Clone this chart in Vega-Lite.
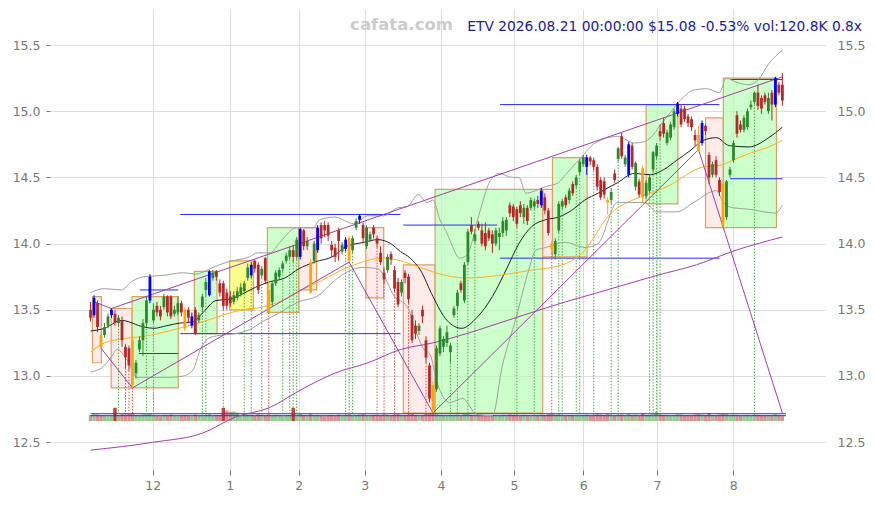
{
"$schema":"https://vega.github.io/schema/vega-lite/v6.json",
"width":775,"height":461,
"autosize":{"type":"none"},
"padding":{"left":50,"top":9,"right":50,"bottom":35},
"background":"white",
"config":{"view":{"stroke":null},"font":"DejaVu Sans","axis":{"labelFont":"DejaVu Sans","labelFontSize":12.5,"labelColor":"#777777","tickColor":"#777777","domain":false,"gridColor":"#dddddd","gridWidth":1}},
"title":{"text":"ETV 2026.08.21 00:00:00 $15.08 -0.53% vol:120.8K 0.8x","anchor":"end","frame":"group","offset":-36,"dx":37,"fontSize":13.8,"font":"DejaVu Sans","fontWeight":"normal","color":"#1c1c99","baseline":"alphabetic"},
"datasets":{
"candles":[
{"i":0,"t":"d","o":13.50,"h":13.56,"l":13.41,"c":13.44,"v":150},
{"i":1,"t":"b","o":13.46,"h":13.61,"l":13.44,"c":13.59,"v":170},
{"i":2,"t":"d","o":13.55,"h":13.57,"l":13.33,"c":13.37,"v":160},
{"i":3,"t":"o","o":13.31,"h":13.33,"l":13.21,"c":13.22,"v":140},
{"i":4,"t":"u","o":13.31,"h":13.40,"l":13.29,"c":13.37,"v":130},
{"i":5,"t":"u","o":13.38,"h":13.47,"l":13.36,"c":13.45,"v":120},
{"i":6,"t":"b","o":13.46,"h":13.51,"l":13.44,"c":13.50,"v":140},
{"i":7,"t":"d","o":13.47,"h":13.50,"l":13.38,"c":13.40,"v":330},
{"i":8,"t":"u","o":13.40,"h":13.46,"l":13.38,"c":13.44,"v":150,"m":"g"},
{"i":9,"t":"d","o":13.42,"h":13.45,"l":13.22,"c":13.27,"v":170},
{"i":10,"t":"d","o":13.22,"h":13.24,"l":13.06,"c":13.14,"v":160,"m":"r"},
{"i":11,"t":"d","o":13.21,"h":13.23,"l":13.04,"c":13.08,"v":180,"m":"r"},
{"i":12,"t":"o","o":13.27,"h":13.31,"l":12.91,"c":12.93,"v":200,"m":"r"},
{"i":13,"t":"u","o":13.02,"h":13.12,"l":12.98,"c":13.10,"v":150},
{"i":14,"t":"u","o":13.20,"h":13.30,"l":13.18,"c":13.27,"v":140},
{"i":15,"t":"u","o":13.27,"h":13.43,"l":13.15,"c":13.40,"v":160},
{"i":16,"t":"u","o":13.40,"h":13.60,"l":13.38,"c":13.57,"v":170,"m":"g"},
{"i":17,"t":"b","o":13.57,"h":13.77,"l":13.55,"c":13.75,"v":180},
{"i":18,"t":"u","o":13.42,"h":13.55,"l":13.40,"c":13.50,"v":140,"m":"g"},
{"i":19,"t":"d","o":13.53,"h":13.56,"l":13.45,"c":13.48,"v":130},
{"i":20,"t":"d","o":13.50,"h":13.53,"l":13.42,"c":13.45,"v":120},
{"i":21,"t":"u","o":13.52,"h":13.62,"l":13.50,"c":13.60,"v":150},
{"i":22,"t":"d","o":13.60,"h":13.61,"l":13.45,"c":13.48,"v":140},
{"i":23,"t":"d","o":13.60,"h":13.61,"l":13.43,"c":13.45,"v":160},
{"i":24,"t":"u","o":13.47,"h":13.53,"l":13.45,"c":13.50,"v":130},
{"i":25,"t":"u","o":13.48,"h":13.60,"l":13.46,"c":13.55,"v":120},
{"i":26,"t":"d","o":13.55,"h":13.57,"l":13.45,"c":13.48,"v":140},
{"i":27,"t":"o","o":13.50,"h":13.52,"l":13.34,"c":13.36,"v":150},
{"i":28,"t":"d","o":13.50,"h":13.52,"l":13.40,"c":13.44,"v":130},
{"i":29,"t":"b","o":13.38,"h":13.48,"l":13.36,"c":13.45,"v":120},
{"i":30,"t":"d","o":13.50,"h":13.52,"l":13.31,"c":13.32,"v":160},
{"i":31,"t":"u","o":13.42,"h":13.48,"l":13.40,"c":13.46,"v":130},
{"i":32,"t":"u","o":13.52,"h":13.62,"l":13.48,"c":13.60,"v":150,"m":"g"},
{"i":33,"t":"u","o":13.65,"h":13.74,"l":13.60,"c":13.71,"v":140,"m":"g"},
{"i":34,"t":"b","o":13.61,"h":13.80,"l":13.60,"c":13.79,"v":170},
{"i":35,"t":"u","o":13.74,"h":13.80,"l":13.72,"c":13.78,"v":130},
{"i":36,"t":"d","o":13.79,"h":13.80,"l":13.72,"c":13.75,"v":140},
{"i":37,"t":"d","o":13.70,"h":13.73,"l":13.60,"c":13.63,"v":150},
{"i":38,"t":"d","o":13.70,"h":13.72,"l":13.50,"c":13.53,"v":330,"m":"g"},
{"i":39,"t":"d","o":13.63,"h":13.66,"l":13.50,"c":13.53,"v":260},
{"i":40,"t":"d","o":13.60,"h":13.64,"l":13.52,"c":13.55,"v":230},
{"i":41,"t":"u","o":13.56,"h":13.64,"l":13.54,"c":13.61,"v":240},
{"i":42,"t":"u","o":13.59,"h":13.67,"l":13.57,"c":13.64,"v":210},
{"i":43,"t":"u","o":13.62,"h":13.70,"l":13.60,"c":13.67,"v":150},
{"i":44,"t":"u","o":13.64,"h":13.72,"l":13.62,"c":13.70,"v":140,"m":"g"},
{"i":45,"t":"u","o":13.74,"h":13.85,"l":13.72,"c":13.82,"v":160},
{"i":46,"t":"b","o":13.76,"h":13.86,"l":13.74,"c":13.84,"v":150,"m":"g"},
{"i":47,"t":"d","o":13.87,"h":13.88,"l":13.78,"c":13.81,"v":130},
{"i":48,"t":"d","o":13.84,"h":13.86,"l":13.62,"c":13.65,"v":170},
{"i":49,"t":"u","o":13.76,"h":13.83,"l":13.74,"c":13.81,"v":150,"m":"g"},
{"i":50,"t":"d","o":13.89,"h":13.90,"l":13.70,"c":13.72,"v":140},
{"i":51,"t":"o","o":13.65,"h":13.72,"l":13.48,"c":13.48,"v":160,"m":"r"},
{"i":52,"t":"u","o":13.56,"h":13.72,"l":13.53,"c":13.70,"v":130},
{"i":53,"t":"u","o":13.70,"h":13.80,"l":13.68,"c":13.78,"v":150},
{"i":54,"t":"u","o":13.75,"h":13.82,"l":13.73,"c":13.80,"v":140},
{"i":55,"t":"u","o":13.81,"h":13.87,"l":13.79,"c":13.85,"v":120,"m":"g"},
{"i":56,"t":"u","o":13.87,"h":13.93,"l":13.85,"c":13.91,"v":130},
{"i":57,"t":"u","o":13.90,"h":13.98,"l":13.88,"c":13.95,"v":150,"m":"g"},
{"i":58,"t":"d","o":13.95,"h":13.99,"l":13.86,"c":13.90,"v":330,"m":"g"},
{"i":59,"t":"u","o":13.90,"h":14.05,"l":13.88,"c":14.03,"v":160,"m":"g"},
{"i":60,"t":"b","o":13.90,"h":14.12,"l":13.88,"c":14.11,"v":180},
{"i":61,"t":"d","o":14.10,"h":14.11,"l":13.95,"c":13.98,"v":150},
{"i":62,"t":"u","o":13.98,"h":14.05,"l":13.95,"c":14.02,"v":130},
{"i":63,"t":"o","o":13.86,"h":13.88,"l":13.62,"c":13.63,"v":170},
{"i":64,"t":"u","o":13.87,"h":14.02,"l":13.85,"c":14.00,"v":140},
{"i":65,"t":"b","o":13.95,"h":14.14,"l":13.93,"c":14.12,"v":150},
{"i":66,"t":"d","o":14.14,"h":14.16,"l":14.00,"c":14.04,"v":130},
{"i":67,"t":"d","o":14.14,"h":14.17,"l":14.05,"c":14.10,"v":120},
{"i":68,"t":"d","o":14.14,"h":14.16,"l":14.02,"c":14.06,"v":140},
{"i":69,"t":"d","o":13.99,"h":14.02,"l":13.90,"c":13.95,"v":150},
{"i":70,"t":"d","o":13.97,"h":14.00,"l":13.86,"c":13.90,"v":130},
{"i":71,"t":"d","o":14.10,"h":14.12,"l":13.87,"c":14.02,"v":160},
{"i":72,"t":"u","o":13.94,"h":14.01,"l":13.92,"c":13.99,"v":140},
{"i":73,"t":"b","o":13.96,"h":14.05,"l":13.94,"c":14.03,"v":150,"m":"g"},
{"i":74,"t":"o","o":14.04,"h":14.06,"l":13.86,"c":13.87,"v":170,"m":"g"},
{"i":75,"t":"u","o":13.95,"h":14.06,"l":13.93,"c":14.04,"v":140,"m":"g"},
{"i":76,"t":"u","o":14.12,"h":14.19,"l":14.10,"c":14.17,"v":150},
{"i":77,"t":"b","o":14.18,"h":14.22,"l":14.15,"c":14.21,"v":160},
{"i":78,"t":"d","o":14.14,"h":14.16,"l":14.00,"c":14.04,"v":170},
{"i":79,"t":"u","o":13.98,"h":14.14,"l":13.96,"c":14.12,"v":140},
{"i":80,"t":"u","o":14.03,"h":14.09,"l":14.01,"c":14.07,"v":130},
{"i":81,"t":"d","o":14.12,"h":14.14,"l":14.04,"c":14.07,"v":150},
{"i":82,"t":"d","o":14.04,"h":14.06,"l":13.97,"c":14.00,"v":160,"m":"r"},
{"i":83,"t":"d","o":13.93,"h":13.98,"l":13.84,"c":13.86,"v":140},
{"i":84,"t":"d","o":13.78,"h":13.82,"l":13.70,"c":13.73,"v":170,"m":"r"},
{"i":85,"t":"u","o":13.80,"h":13.92,"l":13.78,"c":13.90,"v":150},
{"i":86,"t":"d","o":13.92,"h":13.94,"l":13.84,"c":13.88,"v":130},
{"i":87,"t":"d","o":13.80,"h":13.83,"l":13.64,"c":13.66,"v":160,"m":"r"},
{"i":88,"t":"d","o":13.71,"h":13.74,"l":13.52,"c":13.54,"v":170},
{"i":89,"t":"u","o":13.63,"h":13.73,"l":13.60,"c":13.71,"v":140},
{"i":90,"t":"d","o":13.78,"h":13.80,"l":13.70,"c":13.74,"v":150},
{"i":91,"t":"d","o":13.75,"h":13.77,"l":13.55,"c":13.58,"v":160,"m":"r"},
{"i":92,"t":"d","o":13.46,"h":13.50,"l":13.25,"c":13.27,"v":180},
{"i":93,"t":"d","o":13.38,"h":13.42,"l":13.28,"c":13.32,"v":150},
{"i":94,"t":"u","o":13.34,"h":13.40,"l":13.31,"c":13.38,"v":130},
{"i":95,"t":"d","o":13.50,"h":13.53,"l":13.40,"c":13.45,"v":140},
{"i":96,"t":"d","o":13.27,"h":13.30,"l":13.10,"c":13.14,"v":170,"m":"r"},
{"i":97,"t":"d","o":13.08,"h":13.10,"l":12.80,"c":12.83,"v":180},
{"i":98,"t":"o","o":12.93,"h":12.96,"l":12.72,"c":12.74,"v":210,"m":"r"},
{"i":99,"t":"u","o":12.90,"h":13.23,"l":12.88,"c":13.21,"v":170},
{"i":100,"t":"u","o":13.17,"h":13.38,"l":13.15,"c":13.36,"v":150},
{"i":101,"t":"u","o":13.22,"h":13.30,"l":13.18,"c":13.28,"v":140},
{"i":102,"t":"u","o":13.25,"h":13.38,"l":13.22,"c":13.33,"v":130},
{"i":103,"t":"u","o":13.18,"h":13.25,"l":13.10,"c":13.23,"v":150,"m":"g"},
{"i":104,"t":"u","o":13.46,"h":13.53,"l":13.44,"c":13.51,"v":140},
{"i":105,"t":"u","o":13.53,"h":13.65,"l":13.50,"c":13.63,"v":160,"m":"g"},
{"i":106,"t":"d","o":13.70,"h":13.72,"l":13.63,"c":13.65,"v":130},
{"i":107,"t":"u","o":13.57,"h":13.86,"l":13.55,"c":13.84,"v":170},
{"i":108,"t":"u","o":13.86,"h":14.11,"l":13.84,"c":14.09,"v":180,"m":"g"},
{"i":109,"t":"d","o":14.14,"h":14.20,"l":14.07,"c":14.09,"v":150},
{"i":110,"t":"u","o":14.02,"h":14.11,"l":14.00,"c":14.07,"v":140,"m":"g"},
{"i":111,"t":"d","o":14.15,"h":14.17,"l":14.10,"c":14.12,"v":130},
{"i":112,"t":"d","o":14.10,"h":14.15,"l":13.98,"c":14.00,"v":150},
{"i":113,"t":"d","o":14.08,"h":14.16,"l":13.95,"c":13.98,"v":140},
{"i":114,"t":"d","o":14.10,"h":14.12,"l":14.02,"c":14.04,"v":130},
{"i":115,"t":"d","o":14.07,"h":14.10,"l":13.93,"c":14.00,"v":150},
{"i":116,"t":"u","o":14.00,"h":14.12,"l":13.98,"c":14.10,"v":140},
{"i":117,"t":"u","o":14.05,"h":14.12,"l":13.95,"c":14.08,"v":130},
{"i":118,"t":"u","o":14.08,"h":14.20,"l":14.05,"c":14.17,"v":150},
{"i":119,"t":"u","o":14.10,"h":14.20,"l":14.06,"c":14.18,"v":140},
{"i":120,"t":"d","o":14.29,"h":14.31,"l":14.20,"c":14.23,"v":160},
{"i":121,"t":"d","o":14.28,"h":14.30,"l":14.17,"c":14.20,"v":150},
{"i":122,"t":"d","o":14.26,"h":14.28,"l":14.12,"c":14.15,"v":140,"m":"g"},
{"i":123,"t":"d","o":14.29,"h":14.32,"l":14.20,"c":14.23,"v":130},
{"i":124,"t":"u","o":14.20,"h":14.30,"l":14.15,"c":14.27,"v":150},
{"i":125,"t":"d","o":14.27,"h":14.29,"l":14.14,"c":14.17,"v":140},
{"i":126,"t":"u","o":14.27,"h":14.35,"l":14.25,"c":14.33,"v":130},
{"i":127,"t":"u","o":14.28,"h":14.34,"l":14.26,"c":14.32,"v":150,"m":"g"},
{"i":128,"t":"d","o":14.33,"h":14.36,"l":14.27,"c":14.30,"v":140},
{"i":129,"t":"b","o":14.29,"h":14.42,"l":14.27,"c":14.40,"v":160},
{"i":130,"t":"d","o":14.35,"h":14.38,"l":14.22,"c":14.25,"v":150},
{"i":131,"t":"d","o":14.25,"h":14.27,"l":14.06,"c":14.08,"v":170},
{"i":132,"t":"o","o":14.00,"h":14.02,"l":13.93,"c":13.96,"v":180,"m":"r"},
{"i":133,"t":"u","o":13.92,"h":14.04,"l":13.88,"c":14.02,"v":160},
{"i":134,"t":"u","o":14.10,"h":14.32,"l":14.08,"c":14.30,"v":170,"m":"g"},
{"i":135,"t":"u","o":14.28,"h":14.34,"l":14.26,"c":14.32,"v":140,"m":"g"},
{"i":136,"t":"d","o":14.35,"h":14.37,"l":14.27,"c":14.29,"v":130},
{"i":137,"t":"u","o":14.33,"h":14.42,"l":14.30,"c":14.40,"v":150},
{"i":138,"t":"d","o":14.45,"h":14.47,"l":14.36,"c":14.38,"v":140},
{"i":139,"t":"u","o":14.44,"h":14.52,"l":14.42,"c":14.50,"v":130,"m":"g"},
{"i":140,"t":"u","o":14.54,"h":14.64,"l":14.52,"c":14.62,"v":150,"m":"g"},
{"i":141,"t":"u","o":14.60,"h":14.67,"l":14.58,"c":14.65,"v":140},
{"i":142,"t":"b","o":14.58,"h":14.67,"l":14.52,"c":14.65,"v":160},
{"i":143,"t":"d","o":14.65,"h":14.66,"l":14.59,"c":14.62,"v":130},
{"i":144,"t":"d","o":14.63,"h":14.65,"l":14.55,"c":14.58,"v":140,"m":"g"},
{"i":145,"t":"d","o":14.58,"h":14.60,"l":14.40,"c":14.43,"v":170},
{"i":146,"t":"d","o":14.48,"h":14.50,"l":14.33,"c":14.35,"v":160},
{"i":147,"t":"d","o":14.47,"h":14.50,"l":14.34,"c":14.37,"v":150},
{"i":148,"t":"o","o":14.33,"h":14.35,"l":14.22,"c":14.31,"v":170},
{"i":149,"t":"u","o":14.33,"h":14.42,"l":14.30,"c":14.39,"v":140,"m":"g"},
{"i":150,"t":"d","o":14.53,"h":14.56,"l":14.46,"c":14.48,"v":130},
{"i":151,"t":"u","o":14.64,"h":14.73,"l":14.62,"c":14.72,"v":150,"m":"g"},
{"i":152,"t":"d","o":14.81,"h":14.84,"l":14.64,"c":14.66,"v":160},
{"i":153,"t":"u","o":14.60,"h":14.67,"l":14.58,"c":14.65,"v":140},
{"i":154,"t":"b","o":14.52,"h":14.77,"l":14.50,"c":14.75,"v":170},
{"i":155,"t":"d","o":14.74,"h":14.76,"l":14.56,"c":14.58,"v":150},
{"i":156,"t":"u","o":14.43,"h":14.62,"l":14.40,"c":14.61,"v":160},
{"i":157,"t":"d","o":14.47,"h":14.49,"l":14.35,"c":14.37,"v":140},
{"i":158,"t":"o","o":14.57,"h":14.59,"l":14.31,"c":14.35,"v":180},
{"i":159,"t":"u","o":14.36,"h":14.48,"l":14.34,"c":14.46,"v":150},
{"i":160,"t":"u","o":14.40,"h":14.52,"l":14.38,"c":14.50,"v":160,"m":"g"},
{"i":161,"t":"u","o":14.56,"h":14.70,"l":14.54,"c":14.69,"v":170,"m":"g"},
{"i":162,"t":"u","o":14.66,"h":14.76,"l":14.64,"c":14.74,"v":230,"m":"g"},
{"i":163,"t":"d","o":14.85,"h":14.90,"l":14.78,"c":14.81,"v":160,"m":"g"},
{"i":164,"t":"d","o":14.91,"h":14.95,"l":14.80,"c":14.83,"v":150},
{"i":165,"t":"u","o":14.76,"h":14.86,"l":14.74,"c":14.84,"v":140},
{"i":166,"t":"u","o":14.80,"h":14.92,"l":14.78,"c":14.90,"v":130},
{"i":167,"t":"u","o":14.88,"h":15.02,"l":14.86,"c":15.00,"v":150},
{"i":168,"t":"b","o":14.98,"h":15.07,"l":14.96,"c":15.06,"v":170},
{"i":169,"t":"d","o":15.02,"h":15.05,"l":14.88,"c":14.90,"v":160},
{"i":170,"t":"d","o":15.02,"h":15.04,"l":14.92,"c":14.94,"v":140},
{"i":171,"t":"d","o":14.96,"h":14.98,"l":14.88,"c":14.91,"v":150},
{"i":172,"t":"d","o":14.94,"h":14.96,"l":14.85,"c":14.88,"v":130},
{"i":173,"t":"d","o":14.82,"h":14.86,"l":14.74,"c":14.78,"v":160},
{"i":174,"t":"o","o":14.82,"h":14.89,"l":14.69,"c":14.70,"v":170},
{"i":175,"t":"b","o":14.76,"h":14.93,"l":14.74,"c":14.91,"v":160},
{"i":176,"t":"d","o":14.89,"h":14.90,"l":14.82,"c":14.85,"v":150},
{"i":177,"t":"d","o":14.67,"h":14.69,"l":14.45,"c":14.50,"v":200},
{"i":178,"t":"u","o":14.52,"h":14.62,"l":14.50,"c":14.60,"v":150},
{"i":179,"t":"d","o":14.63,"h":14.66,"l":14.50,"c":14.52,"v":140},
{"i":180,"t":"d","o":14.48,"h":14.50,"l":14.36,"c":14.39,"v":160},
{"i":181,"t":"o","o":14.46,"h":14.48,"l":14.12,"c":14.14,"v":180},
{"i":182,"t":"u","o":14.20,"h":14.48,"l":14.18,"c":14.47,"v":170},
{"i":183,"t":"u","o":14.52,"h":14.58,"l":14.50,"c":14.56,"v":150},
{"i":184,"t":"u","o":14.63,"h":14.78,"l":14.61,"c":14.76,"v":160},
{"i":185,"t":"d","o":14.97,"h":15.00,"l":14.80,"c":14.83,"v":150},
{"i":186,"t":"d","o":14.90,"h":14.93,"l":14.84,"c":14.86,"v":130},
{"i":187,"t":"u","o":14.86,"h":14.97,"l":14.84,"c":14.95,"v":140},
{"i":188,"t":"u","o":14.88,"h":15.02,"l":14.86,"c":15.00,"v":150},
{"i":189,"t":"u","o":15.03,"h":15.08,"l":15.01,"c":15.05,"v":130},
{"i":190,"t":"u","o":15.07,"h":15.15,"l":15.05,"c":15.14,"v":160,"m":"g"},
{"i":191,"t":"d","o":15.14,"h":15.20,"l":15.01,"c":15.04,"v":150},
{"i":192,"t":"d","o":15.10,"h":15.12,"l":14.98,"c":15.02,"v":140},
{"i":193,"t":"d","o":15.12,"h":15.14,"l":15.05,"c":15.07,"v":130},
{"i":194,"t":"u","o":15.00,"h":15.14,"l":14.98,"c":15.10,"v":150},
{"i":195,"t":"d","o":15.14,"h":15.16,"l":14.93,"c":15.05,"v":140},
{"i":196,"t":"b","o":15.05,"h":15.26,"l":15.03,"c":15.25,"v":170},
{"i":197,"t":"d","o":15.20,"h":15.22,"l":15.12,"c":15.14,"v":150},
{"i":198,"t":"d","o":15.20,"h":15.29,"l":15.04,"c":15.08,"v":121}
],
"lines":[
{"s":"ma1","i":0,"v":13.34},{"s":"ma1","i":4,"v":13.36},{"s":"ma1","i":8.8,"v":13.42},{"s":"ma1","i":15.3,"v":13.37},{"s":"ma1","i":18.1,"v":13.36},{"s":"ma1","i":21.8,"v":13.38},{"s":"ma1","i":25.7,"v":13.40},{"s":"ma1","i":29.4,"v":13.41},{"s":"ma1","i":32.2,"v":13.48},{"s":"ma1","i":35.9,"v":13.57},{"s":"ma1","i":39.8,"v":13.58},{"s":"ma1","i":43.5,"v":13.62},{"s":"ma1","i":47.2,"v":13.67},{"s":"ma1","i":51.1,"v":13.71},{"s":"ma1","i":55.6,"v":13.74},{"s":"ma1","i":59.6,"v":13.81},{"s":"ma1","i":64.1,"v":13.86},{"s":"ma1","i":69.8,"v":13.91},{"s":"ma1","i":72.6,"v":13.97},{"s":"ma1","i":78.2,"v":14.01},{"s":"ma1","i":82.2,"v":14.03},{"s":"ma1","i":85.9,"v":14.00},{"s":"ma1","i":88.7,"v":13.94},{"s":"ma1","i":91.5,"v":13.89},{"s":"ma1","i":94.4,"v":13.80},{"s":"ma1","i":98,"v":13.60},{"s":"ma1","i":102,"v":13.42},{"s":"ma1","i":106.2,"v":13.36},{"s":"ma1","i":110.5,"v":13.44},{"s":"ma1","i":115,"v":13.60},{"s":"ma1","i":118.9,"v":13.80},{"s":"ma1","i":122.6,"v":14.00},{"s":"ma1","i":126.3,"v":14.13},{"s":"ma1","i":130.2,"v":14.18},{"s":"ma1","i":133.9,"v":14.20},{"s":"ma1","i":137.6,"v":14.25},{"s":"ma1","i":141.5,"v":14.33},{"s":"ma1","i":145.2,"v":14.38},{"s":"ma1","i":150.8,"v":14.46},{"s":"ma1","i":155.6,"v":14.53},{"s":"ma1","i":160.2,"v":14.52},{"s":"ma1","i":164.1,"v":14.56},{"s":"ma1","i":167.8,"v":14.63},{"s":"ma1","i":171.5,"v":14.70},{"s":"ma1","i":175.4,"v":14.78},{"s":"ma1","i":179.1,"v":14.80},{"s":"ma1","i":182.8,"v":14.74},{"s":"ma1","i":188.4,"v":14.73},{"s":"ma1","i":194.1,"v":14.80},{"s":"ma1","i":198,"v":14.88},
{"s":"ma2","i":0,"v":13.18},{"s":"ma2","i":4,"v":13.25},{"s":"ma2","i":8.8,"v":13.28},{"s":"ma2","i":15.3,"v":13.30},{"s":"ma2","i":20.9,"v":13.33},{"s":"ma2","i":26.6,"v":13.37},{"s":"ma2","i":32.2,"v":13.41},{"s":"ma2","i":37.9,"v":13.46},{"s":"ma2","i":43.5,"v":13.50},{"s":"ma2","i":49.2,"v":13.52},{"s":"ma2","i":54.8,"v":13.57},{"s":"ma2","i":60.5,"v":13.65},{"s":"ma2","i":66.1,"v":13.72},{"s":"ma2","i":71.8,"v":13.80},{"s":"ma2","i":76.6,"v":13.85},{"s":"ma2","i":80.2,"v":13.88},{"s":"ma2","i":83.9,"v":13.89},{"s":"ma2","i":88.7,"v":13.87},{"s":"ma2","i":94.4,"v":13.82},{"s":"ma2","i":100,"v":13.77},{"s":"ma2","i":107.6,"v":13.74},{"s":"ma2","i":117,"v":13.76},{"s":"ma2","i":126.3,"v":13.80},{"s":"ma2","i":131.9,"v":13.82},{"s":"ma2","i":137.6,"v":13.87},{"s":"ma2","i":141.5,"v":13.95},{"s":"ma2","i":144.1,"v":14.05},{"s":"ma2","i":147.9,"v":14.20},{"s":"ma2","i":153.5,"v":14.31},{"s":"ma2","i":157.3,"v":14.35},{"s":"ma2","i":160.2,"v":14.38},{"s":"ma2","i":165.8,"v":14.44},{"s":"ma2","i":170.6,"v":14.52},{"s":"ma2","i":175.4,"v":14.58},{"s":"ma2","i":179.9,"v":14.59},{"s":"ma2","i":183.9,"v":14.63},{"s":"ma2","i":188.4,"v":14.68},{"s":"ma2","i":193.2,"v":14.72},{"s":"ma2","i":198,"v":14.78},
{"s":"bu","i":0,"v":13.63},{"s":"bu","i":4,"v":13.66},{"s":"bu","i":8.8,"v":13.65},{"s":"bu","i":11.6,"v":13.71},{"s":"bu","i":15.3,"v":13.75},{"s":"bu","i":20.9,"v":13.76},{"s":"bu","i":26.6,"v":13.78},{"s":"bu","i":30.2,"v":13.77},{"s":"bu","i":34.2,"v":13.81},{"s":"bu","i":37.9,"v":13.85},{"s":"bu","i":40.7,"v":13.87},{"s":"bu","i":45.5,"v":13.90},{"s":"bu","i":47.7,"v":13.93},{"s":"bu","i":51.4,"v":13.93},{"s":"bu","i":54.2,"v":14.01},{"s":"bu","i":59,"v":14.12},{"s":"bu","i":63.8,"v":14.12},{"s":"bu","i":65.5,"v":14.18},{"s":"bu","i":69.8,"v":14.20},{"s":"bu","i":75.4,"v":14.15},{"s":"bu","i":79.4,"v":14.21},{"s":"bu","i":83.9,"v":14.21},{"s":"bu","i":87.9,"v":14.27},{"s":"bu","i":90.7,"v":14.28},{"s":"bu","i":93.8,"v":14.37},{"s":"bu","i":96.3,"v":14.31},{"s":"bu","i":98,"v":14.33},{"s":"bu","i":100,"v":14.18},{"s":"bu","i":102,"v":14.08},{"s":"bu","i":103.7,"v":13.97},{"s":"bu","i":105.6,"v":13.89},{"s":"bu","i":107.6,"v":13.91},{"s":"bu","i":111.3,"v":14.23},{"s":"bu","i":114.1,"v":14.46},{"s":"bu","i":117,"v":14.53},{"s":"bu","i":120.6,"v":14.50},{"s":"bu","i":122.6,"v":14.50},{"s":"bu","i":124.6,"v":14.38},{"s":"bu","i":126.3,"v":14.39},{"s":"bu","i":130.2,"v":14.43},{"s":"bu","i":133.9,"v":14.46},{"s":"bu","i":135.9,"v":14.52},{"s":"bu","i":140.4,"v":14.65},{"s":"bu","i":144.4,"v":14.76},{"s":"bu","i":150.8,"v":14.81},{"s":"bu","i":155.6,"v":14.76},{"s":"bu","i":158.5,"v":14.77},{"s":"bu","i":165,"v":14.96},{"s":"bu","i":169.8,"v":15.11},{"s":"bu","i":172.6,"v":15.16},{"s":"bu","i":176.3,"v":15.17},{"s":"bu","i":180,"v":15.14},{"s":"bu","i":181.9,"v":15.25},{"s":"bu","i":184.7,"v":15.22},{"s":"bu","i":188.4,"v":15.20},{"s":"bu","i":191.2,"v":15.24},{"s":"bu","i":194.1,"v":15.36},{"s":"bu","i":198,"v":15.46},
{"s":"bl","i":0,"v":13.03},{"s":"bl","i":3.1,"v":13.06},{"s":"bl","i":5.9,"v":13.14},{"s":"bl","i":7.6,"v":13.20},{"s":"bl","i":10.5,"v":13.12},{"s":"bl","i":13.3,"v":12.99},{"s":"bl","i":17.2,"v":12.99},{"s":"bl","i":22.9,"v":12.99},{"s":"bl","i":26.6,"v":13.00},{"s":"bl","i":29.4,"v":13.05},{"s":"bl","i":31.4,"v":13.20},{"s":"bl","i":34.2,"v":13.29},{"s":"bl","i":37.9,"v":13.31},{"s":"bl","i":41.5,"v":13.32},{"s":"bl","i":45.5,"v":13.35},{"s":"bl","i":49.2,"v":13.41},{"s":"bl","i":52.8,"v":13.46},{"s":"bl","i":59.6,"v":13.56},{"s":"bl","i":65.3,"v":13.61},{"s":"bl","i":69.8,"v":13.72},{"s":"bl","i":73.7,"v":13.79},{"s":"bl","i":78.2,"v":13.82},{"s":"bl","i":82.2,"v":13.81},{"s":"bl","i":83.9,"v":13.76},{"s":"bl","i":86.7,"v":13.61},{"s":"bl","i":90.7,"v":13.52},{"s":"bl","i":93.5,"v":13.31},{"s":"bl","i":95.2,"v":13.21},{"s":"bl","i":97.2,"v":13.16},{"s":"bl","i":99.2,"v":12.95},{"s":"bl","i":102.8,"v":12.80},{"s":"bl","i":106.5,"v":12.83},{"s":"bl","i":110.5,"v":12.71},{"s":"bl","i":115,"v":12.70},{"s":"bl","i":117.8,"v":13.07},{"s":"bl","i":121.8,"v":13.44},{"s":"bl","i":125.4,"v":13.80},{"s":"bl","i":127.4,"v":13.95},{"s":"bl","i":130.2,"v":13.97},{"s":"bl","i":135.9,"v":14.01},{"s":"bl","i":141.5,"v":13.97},{"s":"bl","i":145.2,"v":14.00},{"s":"bl","i":150.8,"v":14.31},{"s":"bl","i":158.5,"v":14.31},{"s":"bl","i":162.1,"v":14.24},{"s":"bl","i":167.8,"v":14.24},{"s":"bl","i":172.6,"v":14.31},{"s":"bl","i":179.1,"v":14.40},{"s":"bl","i":181.1,"v":14.31},{"s":"bl","i":183.9,"v":14.27},{"s":"bl","i":188.4,"v":14.26},{"s":"bl","i":196,"v":14.23},{"s":"bl","i":198,"v":14.29},
{"s":"ma3","i":0,"v":12.44},{"s":"ma3","i":18.1,"v":12.50},{"s":"ma3","i":32.2,"v":12.57},{"s":"ma3","i":41.5,"v":12.69},{"s":"ma3","i":51.1,"v":12.76},{"s":"ma3","i":60.5,"v":12.90},{"s":"ma3","i":69.8,"v":13.02},{"s":"ma3","i":79.4,"v":13.10},{"s":"ma3","i":88.7,"v":13.20},{"s":"ma3","i":98,"v":13.25},{"s":"ma3","i":107.6,"v":13.32},{"s":"ma3","i":117,"v":13.40},{"s":"ma3","i":126.3,"v":13.48},{"s":"ma3","i":135.9,"v":13.56},{"s":"ma3","i":145.2,"v":13.63},{"s":"ma3","i":162.1,"v":13.76},{"s":"ma3","i":173.4,"v":13.84},{"s":"ma3","i":184.7,"v":13.95},{"s":"ma3","i":198,"v":14.05}
],
"trend":[
{"g":"zz","i":3,"v":13.21},{"g":"zz","i":12,"v":12.91},{"g":"zz","i":74,"v":13.86},{"g":"zz","i":98,"v":12.72},{"g":"zz","i":174,"v":14.71},{"g":"zz","i":198,"v":12.72},
{"g":"up","i":1,"v":13.56},{"g":"up","i":6,"v":13.51},{"g":"up","i":198,"v":15.26}
],
"boxes":[
{"k":"p","i1":0.56,"i2":3.1,"top":13.6,"bot":13.1},
{"k":"p","i1":5.9,"i2":11.9,"top":13.51,"bot":12.91},
{"k":"g","i1":11.9,"i2":25.1,"top":13.6,"bot":12.91},
{"k":"g","i1":29.7,"i2":36.2,"top":13.79,"bot":13.32},
{"k":"y","i1":39.8,"i2":46.6,"top":13.87,"bot":13.5},
{"k":"g","i1":50.6,"i2":59.6,"top":14.12,"bot":13.48},
{"k":"p","i1":59.6,"i2":64.7,"top":14.12,"bot":13.65},
{"k":"p","i1":78.8,"i2":83.9,"top":14.12,"bot":13.59},
{"k":"p","i1":89.5,"i2":98.6,"top":13.84,"bot":12.72},
{"k":"g","i1":98.6,"i2":129.4,"top":14.41,"bot":12.72},
{"k":"p","i1":129.4,"i2":132.2,"top":14.41,"bot":13.9},
{"k":"g","i1":132.2,"i2":142.1,"top":14.65,"bot":13.9},
{"k":"g","i1":159,"i2":168.1,"top":15.05,"bot":14.3},
{"k":"p","i1":176,"i2":181.1,"top":14.95,"bot":14.12},
{"k":"g","i1":181.1,"i2":196.3,"top":15.25,"bot":14.12}
],
"hl":[
{"k":"b","i1":14.1,"i2":25.1,"v":13.65},
{"k":"b","i1":13.8,"i2":25.1,"v":13.17},
{"k":"b","i1":25.7,"i2":88.7,"v":13.32},
{"k":"b","i1":25.7,"i2":88.7,"v":14.22},
{"k":"b","i1":89.5,"i2":116.4,"v":14.14},
{"k":"b","i1":117.2,"i2":180,"v":13.89},
{"k":"b","i1":117.2,"i2":180,"v":15.05},
{"k":"b","i1":183,"i2":198,"v":15.24},
{"k":"b","i1":183,"i2":198,"v":14.49},
{"k":"b","i1":0,"i2":199,"v":12.715},
{"k":"n","i1":0,"i2":199,"v":12.70}
]
},
"resolve":{"scale":{"y":"independent"}},
"layer":[
{
"data":{"name":"candles"},
"mark":{"type":"bar","width":3.4},
"encoding":{
"x":{"field":"i","type":"quantitative","scale":{"domain":[-10.17,208.76],"nice":false,"zero":false},"axis":{"title":null,"values":[17.8,39.8,59.6,78.5,100.3,121.2,141,162.1,183.9],"labelExpr":"datum.value < 20 ? '12' : datum.value < 50 ? '1' : datum.value < 70 ? '2' : datum.value < 90 ? '3' : datum.value < 110 ? '4' : datum.value < 130 ? '5' : datum.value < 150 ? '6' : datum.value < 170 ? '7' : '8'","grid":true,"tickSize":5,"labelPadding":4,"orient":"bottom"}},
"y":{"field":"v","type":"quantitative","scale":{"domain":[-1225,10300],"nice":false,"zero":false},"axis":null},
"y2":{"datum":0},
"color":{"condition":[{"test":"datum.v >= 300","value":"#c03c3c"},{"test":"datum.c >= datum.o","value":"#92cc92"}],"value":"#dc9090"}
}
},
{
"resolve":{"axis":{"y":"independent"},"scale":{"color":"independent","fill":"independent"}},
"layer":[
{
"data":{"name":"boxes"},
"mark":{"type":"rect","stroke":"#dca064","strokeWidth":1.2,"fillOpacity":0.7},
"encoding":{
"x":{"field":"i1","type":"quantitative","scale":{"domain":[-10.17,208.76],"nice":false,"zero":false},"axis":{"title":null,"values":[17.8,39.8,59.6,78.5,100.3,121.2,141,162.1,183.9],"labelExpr":"datum.value < 20 ? '12' : datum.value < 50 ? '1' : datum.value < 70 ? '2' : datum.value < 90 ? '3' : datum.value < 110 ? '4' : datum.value < 130 ? '5' : datum.value < 150 ? '6' : datum.value < 170 ? '7' : '8'","grid":true,"tickSize":5,"labelPadding":4,"orient":"bottom"}},
"x2":{"field":"i2"},
"y":{"field":"top","type":"quantitative","scale":{"domain":[12.29,15.772],"nice":false,"zero":false},"axis":null},
"y2":{"field":"bot"},
"fill":{"field":"k","type":"nominal","scale":{"domain":["g","p","y"],"range":["#b6ffb6","#fce2e0","#ffff5a"]},"legend":null}
}
},
{
"data":{"name":"hl"},
"mark":{"type":"rule","strokeWidth":1},
"encoding":{
"x":{"field":"i1","type":"quantitative","scale":{"domain":[-10.17,208.76],"nice":false,"zero":false},"axis":{"title":null,"values":[17.8,39.8,59.6,78.5,100.3,121.2,141,162.1,183.9],"labelExpr":"datum.value < 20 ? '12' : datum.value < 50 ? '1' : datum.value < 70 ? '2' : datum.value < 90 ? '3' : datum.value < 110 ? '4' : datum.value < 130 ? '5' : datum.value < 150 ? '6' : datum.value < 170 ? '7' : '8'","grid":true,"tickSize":5,"labelPadding":4,"orient":"bottom"}},
"x2":{"field":"i2"},
"y":{"field":"v","type":"quantitative","scale":{"domain":[12.29,15.772],"nice":false,"zero":false},"axis":null},
"color":{"field":"k","type":"nominal","scale":{"domain":["b","n"],"range":["#2a2aff","#3a2a8a"]},"legend":null}
}
},
{
"data":{"name":"candles"},
"transform":[{"filter":"isValid(datum.m)"}],
"mark":{"type":"rule","strokeWidth":0.9,"strokeDash":[1.5,1.5]},
"encoding":{
"x":{"field":"i","type":"quantitative","scale":{"domain":[-10.17,208.76],"nice":false,"zero":false},"axis":{"title":null,"values":[17.8,39.8,59.6,78.5,100.3,121.2,141,162.1,183.9],"labelExpr":"datum.value < 20 ? '12' : datum.value < 50 ? '1' : datum.value < 70 ? '2' : datum.value < 90 ? '3' : datum.value < 110 ? '4' : datum.value < 130 ? '5' : datum.value < 150 ? '6' : datum.value < 170 ? '7' : '8'","grid":true,"tickSize":5,"labelPadding":4,"orient":"bottom"}},
"y":{"field":"l","type":"quantitative","scale":{"domain":[12.29,15.772],"nice":false,"zero":false},"axis":null},
"y2":{"datum":12.70},
"color":{"field":"m","type":"nominal","scale":{"domain":["g","r"],"range":["#3aa03a","#d04040"]},"legend":null}
}
},
{
"data":{"name":"lines"},
"mark":{"type":"line","strokeWidth":1,"interpolate":"monotone"},
"encoding":{
"x":{"field":"i","type":"quantitative","scale":{"domain":[-10.17,208.76],"nice":false,"zero":false},"axis":{"title":null,"values":[17.8,39.8,59.6,78.5,100.3,121.2,141,162.1,183.9],"labelExpr":"datum.value < 20 ? '12' : datum.value < 50 ? '1' : datum.value < 70 ? '2' : datum.value < 90 ? '3' : datum.value < 110 ? '4' : datum.value < 130 ? '5' : datum.value < 150 ? '6' : datum.value < 170 ? '7' : '8'","grid":true,"tickSize":5,"labelPadding":4,"orient":"bottom"}},
"y":{"field":"v","type":"quantitative","scale":{"domain":[12.29,15.772],"nice":false,"zero":false},"axis":null},
"detail":{"field":"s","type":"nominal"},
"color":{"field":"s","type":"nominal","scale":{"domain":["ma1","ma2","bu","bl","ma3"],"range":["#222222","#ffb020","#a0a0a0","#a0a0a0","#a040a8"]},"legend":null}
}
},
{
"data":{"name":"trend"},
"mark":{"type":"line","strokeWidth":1,"color":"#a040a8"},
"encoding":{
"x":{"field":"i","type":"quantitative","scale":{"domain":[-10.17,208.76],"nice":false,"zero":false},"axis":{"title":null,"values":[17.8,39.8,59.6,78.5,100.3,121.2,141,162.1,183.9],"labelExpr":"datum.value < 20 ? '12' : datum.value < 50 ? '1' : datum.value < 70 ? '2' : datum.value < 90 ? '3' : datum.value < 110 ? '4' : datum.value < 130 ? '5' : datum.value < 150 ? '6' : datum.value < 170 ? '7' : '8'","grid":true,"tickSize":5,"labelPadding":4,"orient":"bottom"}},
"y":{"field":"v","type":"quantitative","scale":{"domain":[12.29,15.772],"nice":false,"zero":false},"axis":null},
"detail":{"field":"g","type":"nominal"}
}
},
{
"data":{"name":"candles"},
"mark":{"type":"rule","strokeWidth":1},
"encoding":{
"x":{"field":"i","type":"quantitative","scale":{"domain":[-10.17,208.76],"nice":false,"zero":false},"axis":{"title":null,"values":[17.8,39.8,59.6,78.5,100.3,121.2,141,162.1,183.9],"labelExpr":"datum.value < 20 ? '12' : datum.value < 50 ? '1' : datum.value < 70 ? '2' : datum.value < 90 ? '3' : datum.value < 110 ? '4' : datum.value < 130 ? '5' : datum.value < 150 ? '6' : datum.value < 170 ? '7' : '8'","grid":true,"tickSize":5,"labelPadding":4,"orient":"bottom"}},
"y":{"field":"l","type":"quantitative","scale":{"domain":[12.29,15.772],"nice":false,"zero":false},"axis":{"title":null,"orient":"left","values":[12.5,13,13.5,14,14.5,15,15.5],"format":".1f","grid":true,"tickSize":4,"labelPadding":6}},
"y2":{"field":"h"},
"color":{"field":"t","type":"nominal","scale":{"domain":["u","d","b","o"],"range":["#2a8a2a","#b52828","#0000ff","#ffa500"]},"legend":null}
}
},
{
"data":{"name":"candles"},
"mark":{"type":"bar","width":2.8},
"encoding":{
"x":{"field":"i","type":"quantitative","scale":{"domain":[-10.17,208.76],"nice":false,"zero":false},"axis":{"title":null,"values":[17.8,39.8,59.6,78.5,100.3,121.2,141,162.1,183.9],"labelExpr":"datum.value < 20 ? '12' : datum.value < 50 ? '1' : datum.value < 70 ? '2' : datum.value < 90 ? '3' : datum.value < 110 ? '4' : datum.value < 130 ? '5' : datum.value < 150 ? '6' : datum.value < 170 ? '7' : '8'","grid":true,"tickSize":5,"labelPadding":4,"orient":"bottom"}},
"y":{"field":"o","type":"quantitative","scale":{"domain":[12.29,15.772],"nice":false,"zero":false},"axis":{"title":null,"orient":"right","values":[12.5,13,13.5,14,14.5,15,15.5],"format":".1f","grid":false,"ticks":false,"labelPadding":12}},
"y2":{"field":"c"},
"color":{"field":"t","type":"nominal","scale":{"domain":["u","d","b","o"],"range":["#2a8a2a","#b52828","#0000ff","#ffa500"]},"legend":null}
}
},
{
"data":{"values":[{}]},
"mark":{"type":"text","text":"cafata.com","font":"DejaVu Sans","fontWeight":"bold","fontSize":16.5,"color":"#cccccc","align":"center","baseline":"middle"},
"encoding":{
"x":{"datum":89,"type":"quantitative","scale":{"domain":[-10.17,208.76],"nice":false,"zero":false},"axis":{"title":null,"values":[17.8,39.8,59.6,78.5,100.3,121.2,141,162.1,183.9],"labelExpr":"datum.value < 20 ? '12' : datum.value < 50 ? '1' : datum.value < 70 ? '2' : datum.value < 90 ? '3' : datum.value < 110 ? '4' : datum.value < 130 ? '5' : datum.value < 150 ? '6' : datum.value < 170 ? '7' : '8'","grid":true,"tickSize":5,"labelPadding":4,"orient":"bottom"}},
"y":{"datum":15.651,"type":"quantitative","scale":{"domain":[12.29,15.772],"nice":false,"zero":false},"axis":null}
}
}
]
}
]
}
